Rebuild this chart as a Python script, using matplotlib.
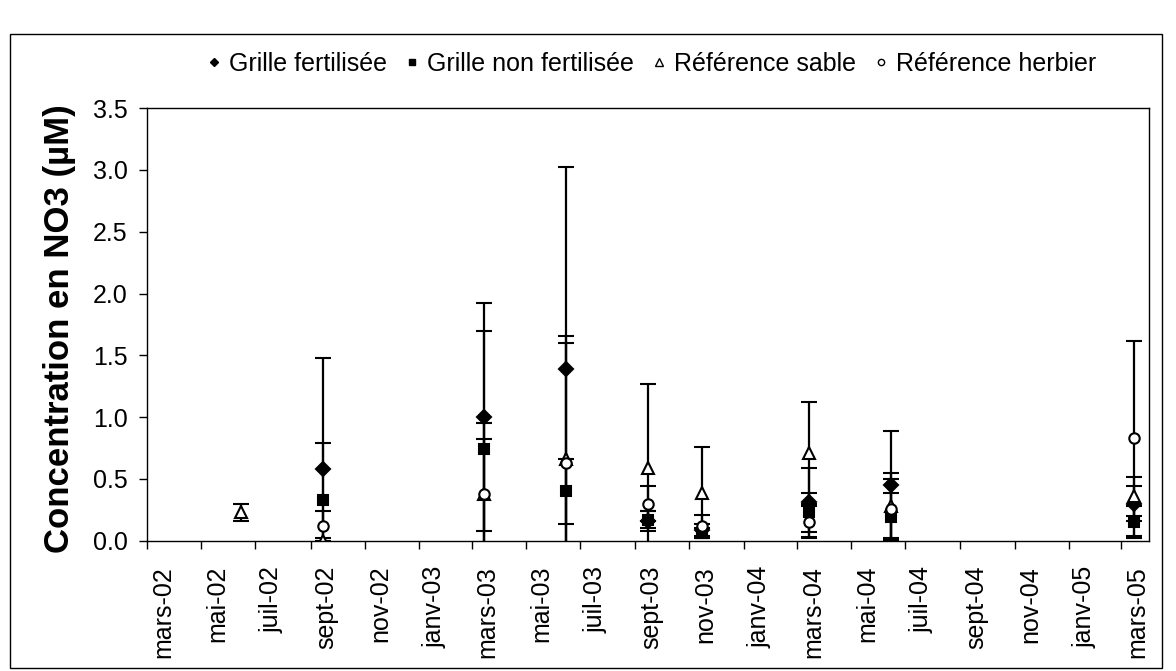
import numpy as np
import matplotlib.pyplot as plt
from matplotlib.lines import Line2D
from matplotlib.patches import Rectangle
from matplotlib.transforms import ScaledTranslation

plt.rcParams['font.family'] = ['Liberation Sans', 'DejaVu Sans']

# dates des prélèvements
dates = np.array(['2002-06-15', '2002-09-15', '2003-03-15', '2003-06-15', '2003-09-15',
                  '2003-11-15', '2004-03-15', '2004-06-15', '2005-03-15'], dtype='datetime64[D]')

nan = np.nan
fert = [nan, 0.58, 1.00, 1.39, 0.16, 0.09, 0.31, 0.45, 0.30]
fert_err = [nan, 0.90, 0.92, 1.63, 0.08, 0.05, 0.28, 0.44, 0.14]
non_fert = [nan, 0.33, 0.74, 0.40, 0.17, 0.06, 0.23, 0.19, 0.15]
non_fert_err = [nan, 0.46, 0.96, 0.26, 0.07, 0.04, 0.16, 0.20, 0.13]
sable = [0.23, 0.00, 0.38, 0.66, 0.59, 0.39, 0.71, 0.28, 0.36]
sable_err = [0.07, 0.02, 0.57, 1.00, 0.68, 0.37, 0.41, 0.27, 0.16]
herbier = [nan, 0.12, 0.38, 0.63, 0.30, 0.12, 0.15, 0.26, 0.83]
herbier_err = [nan, 0.12, 0.44, 0.97, 0.14, 0.09, 0.13, 0.24, 0.79]

noms = ['Grille fertilisée', 'Grille non fertilisée', 'Référence sable', 'Référence herbier']

tick_dates = np.arange(np.datetime64('2002-03'), np.datetime64('2005-04'), 2).astype('datetime64[D]')
tick_labels = ['mars-02', 'mai-02', 'juil-02', 'sept-02', 'nov-02', 'janv-03', 'mars-03',
               'mai-03', 'juil-03', 'sept-03', 'nov-03', 'janv-04', 'mars-04', 'mai-04',
               'juil-04', 'sept-04', 'nov-04', 'janv-05', 'mars-05']

fig = plt.figure(figsize=(11.76, 6.71), dpi=100)
ax = fig.add_axes([0.125, 0.194, 0.852, 0.645])

styles = [('D', 'black', 7), ('s', 'black', 7.5), ('^', 'white', 9), ('o', 'white', 7.5)]
handles = []
for (m, fc, ms), y, err, nom in zip(styles, [fert, non_fert, sable, herbier],
                                    [fert_err, non_fert_err, sable_err, herbier_err], noms):
    ax.errorbar(dates, y, yerr=err, fmt=m, mfc=fc, mec='black', ms=ms, mew=1.5,
                ecolor='black', elinewidth=1.6, capsize=5.8, capthick=1.6)
    handles.append(Line2D([], [], ls='none', marker=m, mfc=fc, mec='black', ms=ms * 0.6, mew=1))

ax.set_xlim(np.datetime64('2002-03-01'), np.datetime64('2005-04-01'))
ax.set_ylim(0, 3.5)
ax.set_yticks(np.arange(0, 3.51, 0.5))
ax.set_yticklabels(['%.1f' % v for v in np.arange(0, 3.51, 0.5)])
ax.set_xticks(tick_dates)
ax.set_xticklabels(tick_labels, rotation=90, va='top')
ax.tick_params(axis='both', labelsize=18, direction='out', length=6, width=1, color='black')
ax.tick_params(axis='y', pad=8)
ax.tick_params(axis='x', pad=12)
for lab in ax.get_xticklabels():
    lab.set_transform(lab.get_transform() + ScaledTranslation(0.16, 0, fig.dpi_scale_trans))

for sp in ax.spines.values():
    sp.set_color('black')
    sp.set_linewidth(1)

fig.text(0.051, 0.51, 'Concentration en NO3 (µM)', rotation=90, ha='center', va='center',
         fontsize=25, fontweight='bold')

fig.legend(handles, noms, loc='center', bbox_to_anchor=(0.552, 0.905), ncol=4, frameon=False,
           fontsize=18, handletextpad=0.1, columnspacing=0.5, handlelength=1)

fig.patches.append(Rectangle((0.0085, 0.005), 0.98, 0.945, transform=fig.transFigure,
                             fill=False, ec='black', lw=1))

fig.savefig('out.png', dpi=100)
